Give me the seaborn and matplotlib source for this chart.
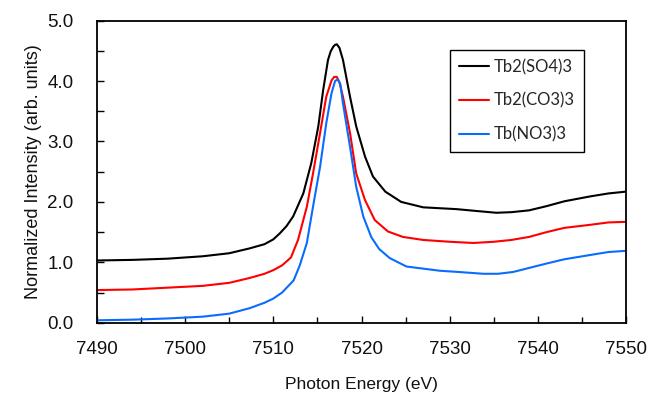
import numpy as np
import pandas as pd
import matplotlib
matplotlib.use("Agg")
import matplotlib.pyplot as plt
from matplotlib.ticker import MultipleLocator, FormatStrFormatter
import seaborn as sns

# Tb2(SO4)3 (black)
e_so4 = [7490, 7494, 7498, 7502, 7505, 7507.3, 7509, 7510, 7510.74, 7511.5, 7512.25,
         7513.4, 7514.3, 7515.1, 7515.65, 7516.2, 7516.5, 7516.8, 7517.0, 7517.2, 7517.5,
         7517.9, 7518.7, 7519.4, 7520.4, 7521.3, 7522.7, 7524.5, 7527, 7530.8, 7533,
         7535.3, 7537, 7539, 7541, 7543, 7545.9, 7548, 7550]
i_so4 = [1.03, 1.04, 1.06, 1.10, 1.15, 1.23, 1.30, 1.38, 1.48, 1.60, 1.76,
         2.14, 2.64, 3.25, 3.85, 4.35, 4.49, 4.57, 4.60, 4.61, 4.55,
         4.35, 3.74, 3.25, 2.75, 2.42, 2.17, 2.00, 1.91, 1.88, 1.85,
         1.82, 1.83, 1.86, 1.93, 2.01, 2.09, 2.14, 2.17]

# Tb2(CO3)3 (red)
e_co3 = [7490, 7494, 7498, 7502, 7505, 7507.3, 7509, 7510, 7511, 7512, 7512.8,
         7513.8, 7514.5, 7515.3, 7516.0, 7516.6, 7516.9, 7517.2, 7517.5, 7517.9,
         7518.7, 7519.4, 7520.4, 7521.5, 7523.0, 7524.7, 7527, 7530, 7532.7, 7535,
         7537, 7539, 7541, 7543, 7545.9, 7548, 7550]
i_co3 = [0.54, 0.55, 0.58, 0.61, 0.66, 0.74, 0.81, 0.87, 0.95, 1.08, 1.37,
         1.92, 2.47, 3.14, 3.74, 4.01, 4.07, 4.07, 3.98, 3.74,
         3.14, 2.47, 2.03, 1.70, 1.51, 1.42, 1.37, 1.34, 1.32, 1.34,
         1.37, 1.42, 1.50, 1.57, 1.62, 1.66, 1.67]

# Tb(NO3)3 (blue)
e_no3 = [7490, 7494, 7498, 7502, 7505, 7507.3, 7509, 7510, 7511, 7512.3, 7513.0,
         7513.8, 7514.5, 7515.3, 7516.0, 7516.6, 7517.0, 7517.3, 7517.6, 7517.9,
         7518.7, 7519.4, 7520.2, 7521.1, 7522, 7523.2, 7525.1, 7528.9, 7531, 7533.8,
         7535.5, 7537.2, 7539.1, 7541, 7543, 7545.9, 7548, 7550]
i_no3 = [0.04, 0.05, 0.07, 0.10, 0.15, 0.24, 0.33, 0.40, 0.50, 0.70, 0.95,
         1.32, 1.92, 2.58, 3.30, 3.80, 4.00, 4.03, 3.95, 3.63,
         2.91, 2.25, 1.76, 1.42, 1.22, 1.07, 0.93, 0.86, 0.84, 0.81,
         0.81, 0.84, 0.91, 0.98, 1.05, 1.12, 1.17, 1.19]

series_names = ["Tb2(SO4)3", "Tb2(CO3)3", "Tb(NO3)3"]
colors = ["#000000", "#ff0000", "#0a6cff"]

df = pd.concat([
    pd.DataFrame({"energy": e, "intensity": v, "sample": name})
    for name, e, v in zip(series_names, [e_so4, e_co3, e_no3], [i_so4, i_co3, i_no3])
])

sns.set_style("ticks")
plt.rcParams["font.family"] = ["Liberation Sans", "DejaVu Sans"]

fig = plt.figure(figsize=(6.61, 3.94), dpi=100)
ax = fig.add_axes([97 / 661, 1 - 322.7 / 394, (626 - 97) / 661, (322.7 - 20.7) / 394])

sns.lineplot(data=df, x="energy", y="intensity", hue="sample",
             palette=dict(zip(series_names, colors)), hue_order=series_names,
             linewidth=1.5, ax=ax, legend=True, sort=False)

ax.set_xlim(7490, 7550)
ax.set_ylim(0, 5)
ax.xaxis.set_major_locator(MultipleLocator(10))
ax.xaxis.set_minor_locator(MultipleLocator(5))
ax.yaxis.set_major_locator(MultipleLocator(1))
ax.yaxis.set_minor_locator(MultipleLocator(0.5))
ax.yaxis.set_major_formatter(FormatStrFormatter("%.1f"))

ax.tick_params(axis="both", which="both", direction="in", color="black",
               labelsize=13.5, labelcolor="#111111")
ax.tick_params(axis="x", which="major", length=5, width=1, pad=13)
ax.tick_params(axis="x", which="minor", length=4, width=1)
ax.tick_params(axis="y", which="major", length=5, width=1, pad=17)
ax.tick_params(axis="y", which="minor", length=5, width=1)

for s in ax.spines.values():
    s.set_visible(True)
    s.set_color("black")
    s.set_linewidth(1.3)

ax.set_xlabel("Photon Energy (eV)", fontsize=12.5, color="#111111", labelpad=14)
ax.set_ylabel("Normalized Intensity (arb. units)", fontsize=13, color="#111111", labelpad=3.5)

handles, labels = ax.get_legend_handles_labels()
leg = ax.legend(handles, labels, loc="upper left",
                bbox_to_anchor=(450 / 661, 1 - 50 / 394), bbox_transform=fig.transFigure,
                frameon=True, fancybox=False, edgecolor="black", framealpha=1,
                prop={"family": ["Lato", "DejaVu Sans"], "size": 12},
                handlelength=1.8, handletextpad=0.25, labelspacing=1.05,
                borderpad=0.55, borderaxespad=0)
leg.get_frame().set_linewidth(1.0)
for line in leg.get_lines():
    line.set_linewidth(1.5)

fig.savefig("out.png", dpi=100)
